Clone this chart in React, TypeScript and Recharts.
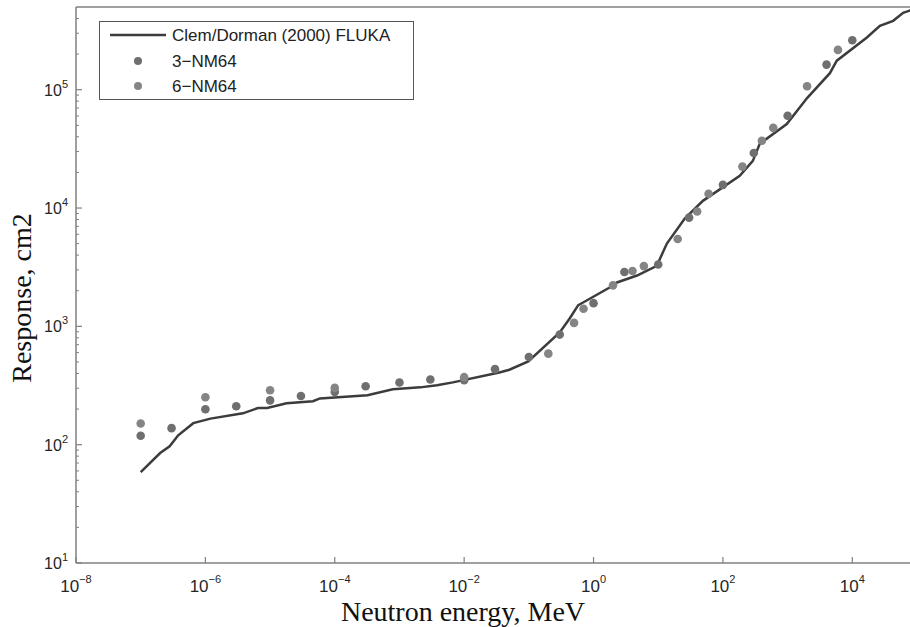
import { ComposedChart, Scatter, XAxis, YAxis } from 'recharts';

// Clem/Dorman (2000) FLUKA response curve
const curveEnergy = [
  1e-7, 2e-7, 2.8e-7, 3.8e-7, 6.5e-7, 1.2e-6, 3.8e-6, 6.5e-6, 9e-6, 1.8e-5,
  4.6e-5, 5.9e-5, 3.2e-4, 7.9e-4, 2.1e-3, 3.8e-3, 6.7e-3, 0.035, 0.05, 0.098,
  0.3, 0.43, 0.58, 0.69, 1.8, 2.3, 4.7, 9.5, 13.6, 25.7, 49, 182, 290, 371,
  970, 2000, 4500, 5760, 16800, 26700, 42800, 61000, 77000, 100000,
];
const curveResponse = [
  58.6, 85, 97, 120, 152, 166, 184, 204, 204, 224,
  233, 246, 262, 294, 305, 318, 336, 408, 430, 505,
  888, 1170, 1510, 1590, 2140, 2350, 2690, 3250, 5010, 8150, 11500, 18700, 25000, 34900,
  51300, 85000, 138000, 176000, 276000, 347000, 382000, 447000, 466000, 520000,
];

// 3-NM64 measurements
const nm3Energy = [
  1e-7, 3e-7, 1e-6, 3e-6, 1e-5, 3e-5, 1e-4, 3e-4, 1e-3, 3e-3, 1e-2, 3e-2,
  0.1, 0.3, 1, 3, 10, 30, 100, 300, 1000, 4000, 10000,
];
const nm3Response = [
  119, 138, 199, 211, 237, 258, 279, 312, 335, 355, 350, 435,
  550, 852, 1570, 2880, 3330, 8300, 15700, 29200, 60300, 163000, 262000,
];

// 6-NM64 measurements
const nm6Energy = [
  1e-7, 1e-6, 1e-5, 1e-4, 1e-2, 0.2, 0.5, 0.7, 2, 4, 6, 20, 40, 60, 200, 400,
  600, 2000, 6000,
];
const nm6Response = [
  151, 252, 288, 302, 372, 588, 1070, 1410, 2220, 2940, 3230, 5470, 9360,
  13200, 22400, 37000, 47600, 107000, 217000,
];

const xTicks = [1e-8, 1e-6, 1e-4, 1e-2, 1, 100, 10000];
const xExponents = ['\u22128', '\u22126', '\u22124', '\u22122', '0', '2', '4'];
const yMajorTicks = [10, 100, 1000, 10000, 100000];
const yExponents = ['1', '2', '3', '4', '5'];
const yMinorTicks = [
  20, 30, 40, 50, 60, 70, 80, 90,
  200, 300, 400, 500, 600, 700, 800, 900,
  2000, 3000, 4000, 5000, 6000, 7000, 8000, 9000,
  20000, 30000, 40000, 50000, 60000, 70000, 80000, 90000,
  200000, 300000, 400000,
];

const curve = curveEnergy.map((x, i) => ({ x, y: curveResponse[i] }));
const nm3 = nm3Energy.map((x, i) => ({ x, y: nm3Response[i] }));
const nm6 = nm6Energy.map((x, i) => ({ x, y: nm6Response[i] }));

const axisColor = '#808080';
const labelColor = '#262626';
const lineColor = '#3c3c3c';
const nm3Color = '#6f6f6f';
const nm6Color = '#858585';
const sans = '"Liberation Sans", Arial, sans-serif';
const serif = '"Liberation Serif", "Times New Roman", serif';

function BottomTick(props: any) {
  const { x, y, payload } = props;
  const i = xTicks.indexOf(payload.value);
  return (
    <g>
      <line x1={x} y1={y} x2={x} y2={y - 6} stroke={axisColor} strokeWidth={1.2} />
      <text x={x} y={y + 29} textAnchor='middle' fontFamily={sans} fontSize={17} fill={labelColor}>
        10
        <tspan dy={-9} fontSize={11}>
          {xExponents[i]}
        </tspan>
      </text>
    </g>
  );
}

function TopTick(props: any) {
  const { x, y } = props;
  return <line x1={x} y1={y} x2={x} y2={y + 6} stroke={axisColor} strokeWidth={1.2} />;
}

function LeftTick(props: any) {
  const { x, y, payload } = props;
  const i = yMajorTicks.indexOf(payload.value);
  if (i < 0) {
    return <line x1={x} y1={y} x2={x + 3} y2={y} stroke={axisColor} />;
  }
  return (
    <g>
      <line x1={x} y1={y} x2={x + 6} y2={y} stroke={axisColor} strokeWidth={1.2} />
      <text x={x - 8} y={y + 6} textAnchor='end' fontFamily={sans} fontSize={16} fill={labelColor}>
        10
        <tspan dy={-8} fontSize={11}>
          {yExponents[i]}
        </tspan>
      </text>
    </g>
  );
}

function Legend() {
  return (
    <svg width={317} height={82} style={{ position: 'absolute', left: 98, top: 20 }}>
      <rect x={1.5} y={1.5} width={314} height={78} fill='#fff' stroke='#555' strokeWidth={1} />
      <line x1={12} y1={15} x2={68} y2={15} stroke={lineColor} strokeWidth={2.5} />
      <text x={74} y={21} fontFamily={sans} fontSize={17} fill='#222'>
        Clem/Dorman (2000) FLUKA
      </text>
      <circle cx={40} cy={41} r={4} fill={nm3Color} />
      <text x={74} y={47} fontFamily={sans} fontSize={17} fill='#222'>
        3−NM64
      </text>
      <circle cx={40} cy={66} r={4} fill={nm6Color} />
      <text x={74} y={72} fontFamily={sans} fontSize={17} fill='#222'>
        6−NM64
      </text>
    </svg>
  );
}

function AxisTitles() {
  return (
    <svg width={910} height={627} style={{ position: 'absolute', left: 0, top: 0, pointerEvents: 'none' }}>
      <text x={463} y={621} textAnchor='middle' fontFamily={serif} fontSize={28} fill='#111'>
        Neutron energy, MeV
      </text>
      <text
        x={0}
        y={0}
        transform='translate(31 298) rotate(-90)'
        textAnchor='middle'
        fontFamily={serif}
        fontSize={28}
        fill='#111'
      >
        Response, cm2
      </text>
    </svg>
  );
}

export default function App() {
  return (
    <div
      style={{
        position: 'fixed',
        left: 0,
        top: 0,
        width: 910,
        height: 627,
        overflow: 'hidden',
        background: '#fff',
      }}
    >
      <ComposedChart width={920} height={627} margin={{ top: 0, right: 3, bottom: 0, left: 0 }}>
        <XAxis
          dataKey='x'
          type='number'
          scale='log'
          domain={[1e-8, 1e5]}
          allowDataOverflow
          ticks={xTicks}
          interval={0}
          height={64}
          tickSize={0}
          tickMargin={0}
          tickLine={false}
          axisLine={{ stroke: axisColor, strokeWidth: 1.5 }}
          tick={<BottomTick />}
        />
        <XAxis
          xAxisId='top'
          orientation='top'
          type='number'
          scale='log'
          domain={[1e-8, 1e5]}
          allowDataOverflow
          ticks={xTicks}
          interval={0}
          height={7}
          tickSize={0}
          tickMargin={0}
          tickLine={false}
          axisLine={{ stroke: axisColor, strokeWidth: 1.5 }}
          tick={<TopTick />}
        />
        <YAxis
          dataKey='y'
          type='number'
          scale='log'
          domain={[10, 500000]}
          allowDataOverflow
          ticks={[...yMajorTicks, ...yMinorTicks]}
          interval={0}
          width={76}
          tickSize={0}
          tickMargin={0}
          tickLine={false}
          axisLine={{ stroke: axisColor, strokeWidth: 1.5 }}
          tick={<LeftTick />}
        />
        <Scatter
          name='Clem/Dorman (2000) FLUKA'
          data={curve}
          line={{ stroke: lineColor, strokeWidth: 2.5 }}
          lineType='joint'
          shape={() => <g />}
          isAnimationActive={false}
        />
        <Scatter name='3-NM64' data={nm3} fill={nm3Color} shape={(p: any) => <circle cx={p.cx} cy={p.cy} r={4.3} fill={nm3Color} />} isAnimationActive={false} />
        <Scatter name='6-NM64' data={nm6} fill={nm6Color} shape={(p: any) => <circle cx={p.cx} cy={p.cy} r={4.3} fill={nm6Color} />} isAnimationActive={false} />
      </ComposedChart>
      <AxisTitles />
      <Legend />
    </div>
  );
}
